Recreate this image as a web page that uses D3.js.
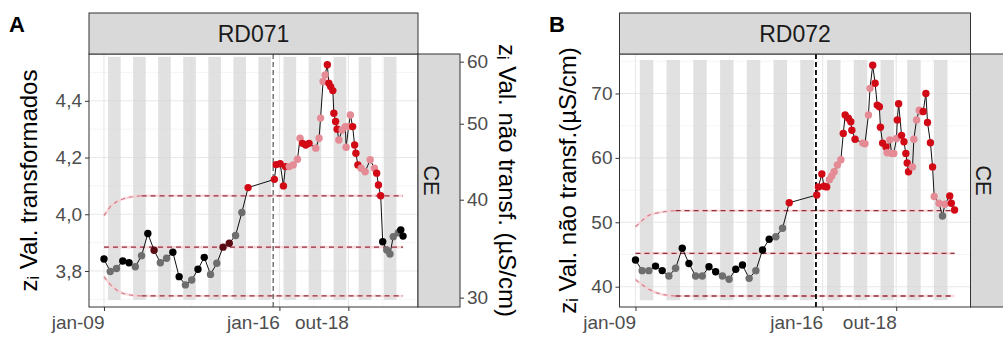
<!DOCTYPE html>
<html>
<head>
<meta charset="utf-8">
<script src="https://cdn.jsdelivr.net/npm/d3@7"></script>
<style>
  body { margin: 0; background: #fff; }
  svg text { font-family: "Liberation Sans", Arial, sans-serif; }
</style>
</head>
<body>
<svg id="chart" width="1003" height="341"></svg>
<script>
// ---------- data ----------
// Sampling dates as decimal years (quarterly until 2014, then ~monthly)
const timesA = [2009.00,2009.25,2009.50,2009.75,2010.00,2010.25,2010.50,2010.75,2011.00,2011.25,2011.50,2011.75,
  2012.00,2012.25,2012.50,2012.75,2013.00,2013.25,2013.50,2013.75,2014.00,2014.25,2014.50,2014.75,
  2015.80,2015.87,2016.03,2016.16,2016.24,2016.39,2016.55,2016.72,2016.82,2016.92,2017.05,2017.18,
  2017.45,2017.58,2017.64,2017.74,2017.82,2017.91,2017.97,2018.04,2018.13,2018.17,2018.24,2018.30,
  2018.37,2018.50,2018.63,2018.66,2018.76,2018.83,2018.92,2019.00,2019.05,2019.13,2019.26,2019.42,
  2019.62,2019.79,2019.88,2019.95,2020.04,2020.12,2020.28,2020.41,2020.54,2020.74,2020.84,2020.93];
// RD071: EWMA statistic on the transformed scale
const valuesA = [3.842,3.798,3.809,3.835,3.829,3.815,3.854,3.932,3.873,3.829,3.845,3.866,
  3.780,3.751,3.768,3.806,3.848,3.788,3.827,3.884,3.898,3.925,4.006,4.094,
  4.123,4.175,4.178,4.100,4.168,4.168,4.174,4.194,4.268,4.250,4.244,4.250,
  4.233,4.268,4.339,4.468,4.491,4.527,4.462,4.450,4.436,4.356,4.327,4.300,
  4.262,4.297,4.309,4.236,4.309,4.350,4.309,4.244,4.215,4.174,4.162,4.150,
  4.192,4.162,4.145,4.103,4.065,3.903,3.874,3.860,3.921,3.935,3.945,3.923];
// k = wet season, g = dry season, d = warning, r = alarm (wet), p = alarm (dry)
const stateA = ["k","g","g","k","k","g","g","k","d","g","g","k",
  "k","g","g","k","k","g","g","d","d","g","g","r",
  "r","r","r","r","r","p","p","p","p","r","r","r",
  "p","p","p","p","p","r","r","r","r","r","r","r",
  "p","p","p","p","p","p","r","r","r","r","p","p",
  "p","p","r","r","r","k","g","g","g","g","k","k"];

const timesB = [2009.00,2009.25,2009.50,2009.75,2010.00,2010.25,2010.50,2010.75,2011.00,2011.25,2011.50,2011.75,
  2012.00,2012.25,2012.50,2012.75,2013.00,2013.25,2013.50,2013.75,2014.00,2014.25,2014.50,2014.75,
  2015.78,2015.84,2015.97,2016.05,2016.15,2016.25,2016.34,2016.43,2016.55,2016.68,2016.77,2016.84,
  2016.96,2017.05,2017.09,2017.21,2017.50,2017.58,2017.71,2017.77,2017.87,2017.96,2018.04,2018.12,
  2018.16,2018.24,2018.37,2018.41,2018.51,2018.58,2018.66,2018.76,2018.79,2018.84,2018.95,2019.04,
  2019.11,2019.16,2019.21,2019.36,2019.41,2019.51,2019.61,2019.70,2019.76,2019.86,2019.92,2020.03,
  2020.11,2020.17,2020.35,2020.48,2020.57,2020.75,2020.81,2020.93];
// RD072: EWMA statistic, conductivity in µS/cm
const valuesB = [44.15,42.49,42.49,43.2,42.5,41.66,42.86,45.96,43.6,41.66,41.66,43.1,
  42.33,41.66,41.15,42.7,43.37,41.3,42.49,45.7,47.36,47.76,49.07,53.04,
  54.24,55.5,57.5,55.6,55.5,56.6,57.2,57.86,58.9,59.7,63.8,66.66,
  66.15,65.6,64.3,62.9,62.3,62.2,66.66,70.8,74.4,71.6,68.2,67.95,
  64.75,62.3,61.7,60.8,62.8,60.7,60.7,63.0,65.9,68.4,63.5,62.5,
  60.7,59.2,57.86,58.6,62.9,65.9,67.4,67.2,67.2,70.0,65.5,62.36,
  58.6,54.0,52.95,50.98,52.8,54.1,52.95,51.9];
const stateB = ["k","g","g","k","k","g","g","k","k","g","g","k",
  "k","g","g","k","k","g","g","k","k","g","g","r",
  "r","r","r","r","r","p","p","p","p","p","r","r",
  "r","r","r","r","p","p","p","p","r","r","r","r",
  "r","r","r","p","p","p","p","p","r","r","r","r",
  "r","r","r","p","p","p","p","p","r","r","r","r",
  "r","p","p","g","p","r","r","r"];

// EWMA control limits (centre line and time-varying upper/lower limits)
const limitTimes = [2009.00,2009.25,2009.50,2009.75,2010.00,2010.25,2010.50,2020.93];
const uclA = [3.995,4.027,4.044,4.054,4.060,4.063,4.065,4.065];
const lclA = [3.780,3.752,3.733,3.721,3.716,3.713,3.712,3.712];
const clA  = [3.884,3.884,3.884,3.884,3.884,3.884,3.884,3.884];
const uclB = [49.3,50.3,51.1,51.4,51.6,51.75,51.8,51.8];
const lclB = [41.1,40.3,39.6,39.1,38.8,38.65,38.56,38.56];
const clB  = [45.19,45.19,45.19,45.19,45.19,45.19,45.19,45.19];

// Dry season (March–August) of each year
const seasonYears = d3.range(2009, 2021);
const seasonStartMonth = 2;   // March (0-based)
const seasonEndMonth = 8;     // up to 1 September

const changeDate = 2015.75;   // start of the monitoring phase

// Axis breaks and labels
const xBreaks = [2009.0, 2016.0, 2018.75];
const xLabels = ["jan-09", "jan-16", "out-18"];
const yTicksA = [3.8, 4.0, 4.2, 4.4];
const yTicksA2 = [30, 40, 50, 60];
const yTicksB = [40, 50, 60, 70];
const yDomainA = [3.673, 4.565];
const yDomainB = [36.85, 76.13];
const bandRangeA = [3.698, 4.555];
const bandRangeB = [37.9, 75.2];
// secondary axis: untransformed value v maps onto z through a log relation
const secAnchorV = [30, 60];
const secAnchorZ = [3.706, 4.538];

// ---------- drawing ----------
const svg = d3.select("#chart");
const stateColor = { k: "#000000", g: "#6e6e6e", d: "#5a0b12", r: "#d20a16", p: "#e48b95" };
const FONT = '"Liberation Sans", Arial, sans-serif';

function decToDate(v) {
  const yr = Math.floor(v);
  const s = new Date(yr, 0, 1), e = new Date(yr + 1, 0, 1);
  return new Date(+s + (v - yr) * (e - s));
}

function drawPanel(o) {
  const g = svg.append("g");
  const ext = d3.extent(o.times);
  const pad = 0.05 * (ext[1] - ext[0]);
  const x = d3.scaleTime()
    .domain([decToDate(ext[0] - pad), decToDate(ext[1] + pad)])
    .range([o.left, o.right]);
  const y = d3.scaleLinear().domain(o.yDomain).range([o.bottom, o.top]);

  // panel background
  g.append("rect").attr("x", o.left).attr("y", o.top)
    .attr("width", o.right - o.left).attr("height", o.bottom - o.top).attr("fill", "#fff");

  // grid
  const yStep = o.yTicks[1] - o.yTicks[0];
  const yMinor = d3.range(o.yTicks[0] - yStep / 2, o.yDomain[1], yStep).filter(v => v > o.yDomain[0]);
  const xMinor = [];
  for (let i = 0; i < xBreaks.length - 1; i++) xMinor.push((xBreaks[i] + xBreaks[i + 1]) / 2);
  xMinor.push(xBreaks[xBreaks.length - 1] + (xBreaks[xBreaks.length - 1] - xBreaks[xBreaks.length - 2]) / 2);
  const grid = g.append("g");
  grid.selectAll("line.ymin").data(yMinor).join("line")
    .attr("x1", o.left).attr("x2", o.right).attr("y1", d => y(d)).attr("y2", d => y(d))
    .attr("stroke", "#efefef").attr("stroke-width", 0.6);
  grid.selectAll("line.ymaj").data(o.yTicks).join("line")
    .attr("x1", o.left).attr("x2", o.right).attr("y1", d => y(d)).attr("y2", d => y(d))
    .attr("stroke", "#e8e8e8").attr("stroke-width", 1.1);
  grid.selectAll("line.xmin").data(xMinor).join("line")
    .attr("y1", o.top).attr("y2", o.bottom).attr("x1", d => x(decToDate(d))).attr("x2", d => x(decToDate(d)))
    .attr("stroke", "#efefef").attr("stroke-width", 0.6);
  grid.selectAll("line.xmaj").data(xBreaks).join("line")
    .attr("y1", o.top).attr("y2", o.bottom).attr("x1", d => x(decToDate(d))).attr("x2", d => x(decToDate(d)))
    .attr("stroke", "#e8e8e8").attr("stroke-width", 1.1);

  // dry-season bands
  g.append("g").selectAll("rect").data(seasonYears).join("rect")
    .attr("x", d => x(new Date(d, seasonStartMonth, 1)))
    .attr("width", d => x(new Date(d, seasonEndMonth, 1)) - x(new Date(d, seasonStartMonth, 1)))
    .attr("y", y(o.bandRange[1]))
    .attr("height", y(o.bandRange[0]) - y(o.bandRange[1]))
    .attr("fill", "#d6d6d6").attr("opacity", 0.72);

  // control limits: the start-up (widening) part is lighter than the steady part
  const limPts = arr => arr.map((v, i) => [x(decToDate(limitTimes[i])), y(v)]);
  const line = d3.line();
  [o.ucl, o.cl, o.lcl].forEach(arr => {
    const p = limPts(arr);
    const last = arr[arr.length - 1];
    const k = arr.findIndex(v => v === last);
    g.append("path").attr("d", line(p)).attr("fill", "none")
      .attr("stroke", "#f7cdd2").attr("stroke-width", 2.6).attr("opacity", 0.75);
    if (k > 0) {
      g.append("path").attr("d", line(p.slice(0, k + 1))).attr("fill", "none")
        .attr("stroke", "#d27a88").attr("stroke-width", 1.1).attr("stroke-dasharray", "4,4");
    }
    g.append("path").attr("d", line(p.slice(k))).attr("fill", "none")
      .attr("stroke", "#932c3e").attr("stroke-width", 1.3).attr("stroke-dasharray", "5,4");
  });

  // phase change
  g.append("line")
    .attr("x1", x(decToDate(changeDate))).attr("x2", x(decToDate(changeDate)))
    .attr("y1", o.top).attr("y2", o.bottom)
    .attr("stroke", o.vColor).attr("stroke-width", o.vWidth).attr("stroke-dasharray", "5,3");

  // series line and points
  const pts = o.times.map((t, i) => ({ t: decToDate(t), v: o.values[i], s: o.states[i] }));
  g.append("path").datum(pts)
    .attr("d", d3.line().x(d => x(d.t)).y(d => y(d.v)))
    .attr("fill", "none").attr("stroke", "#111").attr("stroke-width", 1);
  g.append("g").selectAll("circle").data(pts).join("circle")
    .attr("cx", d => x(d.t)).attr("cy", d => y(d.v)).attr("r", 3.7)
    .attr("fill", d => stateColor[d.s]);

  // panel border
  g.append("rect").attr("x", o.left).attr("y", o.top)
    .attr("width", o.right - o.left).attr("height", o.bottom - o.top)
    .attr("fill", "none").attr("stroke", "#333").attr("stroke-width", 1);

  // top strip
  g.append("rect").attr("x", o.left).attr("y", o.stripTop)
    .attr("width", o.right - o.left).attr("height", o.top - o.stripTop)
    .attr("fill", "#d9d9d9").attr("stroke", "#333").attr("stroke-width", 1);
  g.append("text").attr("x", (o.left + o.right) / 2).attr("y", (o.stripTop + o.top) / 2)
    .attr("text-anchor", "middle").attr("dominant-baseline", "central")
    .attr("font-size", 23).attr("fill", "#1a1a1a").text(o.site);

  // right strip
  g.append("rect").attr("x", o.right).attr("y", o.top)
    .attr("width", o.rStripW).attr("height", o.bottom - o.top)
    .attr("fill", "#d9d9d9").attr("stroke", "#333").attr("stroke-width", 1);
  g.append("text")
    .attr("transform", `translate(${o.right + 13},${(o.top + o.bottom) / 2}) rotate(90)`)
    .attr("text-anchor", "middle").attr("dominant-baseline", "central")
    .attr("font-size", 22).attr("fill", "#1a1a1a").text("CE");

  // left axis
  const fmt = o.decimalComma ? (d => d3.format(".1f")(d).replace(".", ",")) : d3.format("d");
  const ax = g.append("g").attr("transform", `translate(${o.left},0)`)
    .call(d3.axisLeft(y).tickValues(o.yTicks).tickSize(4).tickPadding(3).tickFormat(fmt));
  ax.select(".domain").remove();
  ax.selectAll("line").attr("stroke", "#333");
  ax.selectAll("text").attr("font-size", 19).attr("fill", "#4d4d4d").style("font-family", FONT);

  // bottom axis (labels end at their break)
  const bx = g.append("g").attr("transform", `translate(0,${o.bottom})`)
    .call(d3.axisBottom(x).tickValues(xBreaks.map(decToDate)).tickSize(4).tickPadding(5)
      .tickFormat((d, i) => xLabels[i]));
  bx.select(".domain").remove();
  bx.selectAll("line").attr("stroke", "#333");
  bx.selectAll("text").attr("font-size", 19).attr("fill", "#4d4d4d").attr("text-anchor", "end")
    .style("font-family", FONT);

  // left title with subscript
  const t = g.append("text")
    .attr("transform", `translate(${o.titleX},${(o.top + o.bottom) / 2}) rotate(-90)`)
    .attr("text-anchor", "middle").attr("dominant-baseline", "central")
    .attr("font-size", 24).attr("fill", "#000");
  t.append("tspan").text("z");
  t.append("tspan").attr("font-size", 16).attr("dy", 5).text("i");
  t.append("tspan").attr("dy", -5).text(o.title);

  // panel tag
  g.append("text").attr("x", o.tagX).attr("y", o.tagY)
    .attr("font-size", 22).attr("font-weight", "bold").attr("fill", "#000").text(o.tag);

  return { x, y };
}

const pA = drawPanel({
  times: timesA, values: valuesA, states: stateA,
  ucl: uclA, cl: clA, lcl: lclA,
  yDomain: yDomainA, yTicks: yTicksA, bandRange: bandRangeA, decimalComma: true,
  left: 89, right: 418, top: 54, bottom: 307, stripTop: 13, rStripW: 42,
  site: "RD071", title: " Val. transformados", titleX: 28, tag: "A", tagX: 9, tagY: 32,
  vColor: "#333", vWidth: 1
});

// secondary (untransformed) axis on panel A
const secScale = d3.scaleLog().domain(secAnchorV)
  .range(secAnchorZ.map(z => pA.y(z)));
const ra = svg.append("g").attr("transform", "translate(460,0)")
  .call(d3.axisRight(secScale).tickValues(yTicksA2).tickSize(4).tickPadding(3).tickFormat(d3.format("d")));
ra.select(".domain").remove();
ra.selectAll("line").attr("stroke", "#333");
ra.selectAll("text").attr("font-size", 19).attr("fill", "#4d4d4d").style("font-family", FONT);
const rt = svg.append("text")
  .attr("transform", `translate(508,${(54 + 307) / 2}) rotate(90)`)
  .attr("text-anchor", "middle").attr("dominant-baseline", "central")
  .attr("font-size", 24).attr("fill", "#000");
rt.append("tspan").text("z");
rt.append("tspan").attr("font-size", 16).attr("dy", 5).text("i");
rt.append("tspan").attr("dy", -5).text(" Val. não transf. (µS/cm)");

drawPanel({
  times: timesB, values: valuesB, states: stateB,
  ucl: uclB, cl: clB, lcl: lclB,
  yDomain: yDomainB, yTicks: yTicksB, bandRange: bandRangeB, decimalComma: false,
  left: 619.5, right: 970.5, top: 54, bottom: 307, stripTop: 13, rStripW: 42,
  site: "RD072", title: " Val. não transf.(µS/cm)", titleX: 567, tag: "B", tagX: 549, tagY: 32,
  vColor: "#000", vWidth: 1.8
});
</script>
</body>
</html>
